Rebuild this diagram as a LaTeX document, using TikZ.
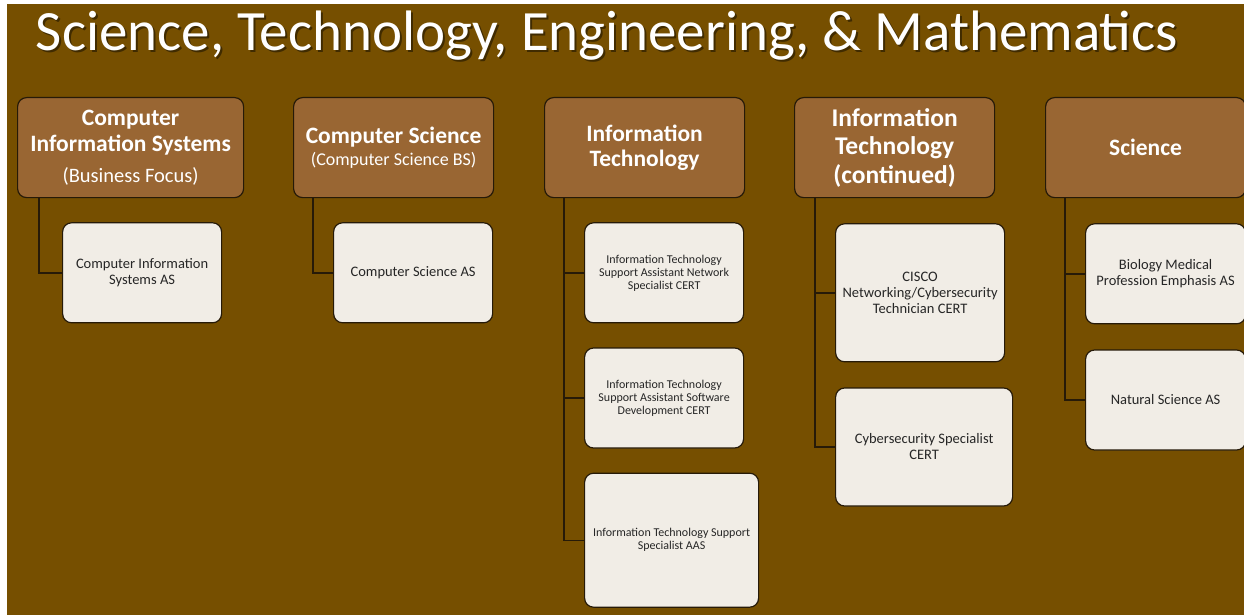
\documentclass[tikz,border=0pt]{standalone}
\usepackage{fontspec}
\setmainfont{Carlito}
\usetikzlibrary{positioning}
\definecolor{bgbrown}{RGB}{118,79,0}
\definecolor{hdbrown}{RGB}{153,102,51}
\definecolor{kidcream}{RGB}{241,237,230}
\definecolor{edgedark}{RGB}{38,26,8}
\tikzset{hdbox/.style={draw=edgedark,fill=hdbrown,line width=1.2pt,rounded corners=9pt,minimum width=200pt,minimum height=100pt,inner sep=0pt,align=center,text=white,font=\fontsize{23.5}{26}\selectfont\bfseries}}
\tikzset{kidbox/.style={draw=edgedark,fill=kidcream,line width=1.2pt,rounded corners=9pt,minimum width=159pt,minimum height=100pt,inner sep=0pt,align=center,text=black!85,font=\fontsize{14.5}{16}\selectfont}}
\tikzset{kidsmall/.style={kidbox,font=\fontsize{12}{13}\selectfont}}
\tikzset{tie/.style={draw=edgedark,line width=1.4pt}}
\tikzset{ttl/.style={anchor=base,text=white,font=\fontsize{57}{60}\selectfont}}

\begin{document}
\begin{tikzpicture}[x=1pt,y=-1pt]
\useasboundingbox (0,0) rectangle (1244,615);
\fill[white] (0,0) rectangle (1244,615);
\fill[bgbrown] (7,4) rectangle (1244,615);

\node[ttl,text=black,opacity=.45] (Tsh) at (609,53) {Science, Technology, Engineering, \& Mathematics};
\node[ttl] (T) at (607,51) {Science, Technology, Engineering, \& Mathematics};

\node[hdbox,anchor=north west,minimum width=226pt] (CIS) at (17,97) {Computer\\Information Systems\\[5pt]{\mdseries\fontsize{20.5}{24}\selectfont(Business Focus)}};
\node[hdbox,anchor=north west] (CS) at (293,97) {Computer Science\\[-4pt]{\mdseries\fontsize{18}{20}\selectfont(Computer Science BS)}};
\node[hdbox,anchor=north west,font=\fontsize{23.5}{25}\selectfont\bfseries] (IT) at (544,97) {Information\\Technology};
\node[hdbox,anchor=north west,font=\fontsize{25.5}{28.5}\selectfont\bfseries] (ITc) at (794,97) {Information\\Technology\\(continued)};
\node[hdbox,anchor=north west] (Sci) at (1045,97) {Science};

\node[kidbox,below right=24pt and 45pt of CIS.south west,anchor=north west] (CIS1) {Computer Information\\Systems AS};
\node[kidbox,below right=24pt and 40pt of CS.south west,anchor=north west] (CS1) {Computer Science AS};

\node[kidsmall,below right=24pt and 40pt of IT.south west,anchor=north west] (IT1) {Information Technology\\Support Assistant Network\\Specialist CERT};
\node[kidsmall,below=24pt of IT1.south west,anchor=north west] (IT2) {Information Technology\\Support Assistant Software\\Development CERT};
\node[kidsmall,below=24pt of IT2.south west,anchor=north west,minimum width=174pt,minimum height=134pt] (IT3) {Information Technology Support\\Specialist AAS};

\node[kidbox,below right=25pt and 41pt of ITc.south west,anchor=north west,minimum width=169pt,minimum height=138pt] (ITc1) {CISCO\\Networking/Cybersecurity\\Technician CERT};
\node[kidbox,below=25pt of ITc1.south west,anchor=north west,minimum width=177pt,minimum height=118pt] (ITc2) {Cybersecurity Specialist\\CERT};

\node[kidbox,below right=25pt and 40pt of Sci.south west,anchor=north west,minimum width=160pt] (Sci1) {Biology Medical\\Profession Emphasis AS};
\node[kidbox,below=25pt of Sci1.south west,anchor=north west,minimum width=160pt] (Sci2) {Natural Science AS};

\draw[tie] ([xshift=22pt]CIS.south west) |- (CIS1.west);
\draw[tie] ([xshift=20pt]CS.south west) |- (CS1.west);
\draw[tie] ([xshift=20pt]IT.south west) |- (IT1.west);
\draw[tie] ([xshift=20pt]IT.south west) |- (IT2.west);
\draw[tie] ([xshift=20pt]IT.south west) |- (IT3.west);
\draw[tie] ([xshift=21pt]ITc.south west) |- (ITc1.west);
\draw[tie] ([xshift=21pt]ITc.south west) |- (ITc2.west);
\draw[tie] ([xshift=20pt]Sci.south west) |- (Sci1.west);
\draw[tie] ([xshift=20pt]Sci.south west) |- (Sci2.west);
\end{tikzpicture}
\end{document}
